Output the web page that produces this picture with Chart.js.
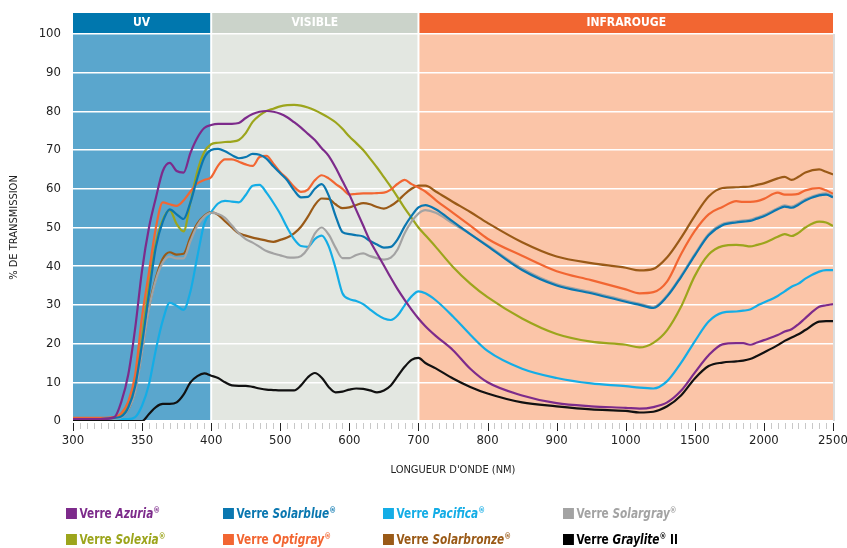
<!DOCTYPE html>
<html>
<head>
<meta charset="utf-8">
<script src="https://cdn.jsdelivr.net/npm/chart.js@4.4.1/dist/chart.umd.min.js"></script>
<style>
  html, body { margin: 0; padding: 0; background: #fff; }
  #wrap { position: relative; width: 847px; height: 548px; }
  #legend { position: absolute; left: 0; top: 0; width: 847px; height: 548px; pointer-events: none;
    font-family: 'Liberation Sans Narrow', 'DejaVu Sans Condensed', sans-serif; font-weight: bold; font-size: 14px; }
  .item { position: absolute; white-space: nowrap; line-height: 16px; transform: scaleX(0.84); transform-origin: 0 50%; }
  .item .sw { display: inline-block; width: 13px; height: 11px; margin-right: 3px; vertical-align: -1px; }
  .item i { font-style: italic; }
  .item sup { font-size: 9px; vertical-align: 5px; line-height: 0; }
</style>
</head>
<body>
<div id="wrap">
  <canvas id="chart" width="847" height="548"></canvas>
  <div id="legend"></div>
</div>
<script>
// tick positions of the x axis (evenly spaced on the page)
const tickNm = [300, 350, 400, 500, 600, 700, 800, 900, 1000, 1500, 2000, 2500];

// spectral zones
const zoneLabels = ['UV', 'VISIBLE', 'INFRAROUGE'];
const zoneEdges = [300, 400, 700, 2500];

// wavelengths (nm) at which the curves were read
const wavelengths = [
  300, 320, 330, 335, 340, 345, 350, 355, 360, 365, 370, 375, 380, 385, 390, 395, 400,
  410, 420, 430, 440, 450, 460, 470, 480, 490, 500, 510, 520, 530, 540, 550, 560, 570, 580, 590,
  600, 610, 620, 630, 640, 650, 660, 670, 680, 690, 700,
  710, 725, 750, 775, 800, 850, 900, 950, 1000, 1100, 1200, 1300, 1400, 1500, 1600, 1700, 1800,
  1850, 1900, 1950, 2000, 2100, 2150, 2200, 2250, 2300, 2400, 2450, 2500
];

// % transmission
const azuria = [
  0.5, 0.5, 1, 5, 12, 24, 39, 50, 57.7, 64.6, 66.7, 64.6, 64.2, 69.3, 73.2, 75.7, 76.5,
  76.8, 76.8, 76.8, 77, 78.3, 79.3, 79.9, 80.1, 79.9, 79.4, 78.5, 77.2, 75.8, 74.2, 72.6, 70.5, 68.5, 65.5, 62,
  58.5, 54.5, 50.5, 46.5, 43.3, 40.2, 37, 34, 31.3, 28.8, 26.5,
  24.5, 22, 18.3, 13.5, 10, 6.6, 4.6, 3.8, 3.4, 3.2, 3.6, 4.8, 7.8, 12.5, 17, 19.8, 20.1,
  20.1, 19.7, 20.3, 20.9, 22.2, 23.1, 23.7, 25, 26.6, 29.5, 29.9, 30.2
];
const solarblue = [
  0.5, 0.5, 0.8, 1.2, 3.5, 9, 20, 33, 45, 51.5, 54.7, 53.4, 52.2, 56.5, 62.8, 68, 70,
  70.3, 69.7, 68.7, 67.9, 68.2, 69, 68.8, 67.8, 65.8, 64, 62.2, 59.6, 57.8, 57.9, 60, 61.2, 58.3, 53, 48.8,
  48.3, 48, 47.7, 46.5, 45.6, 44.8, 45, 47, 50.3, 53, 55.2,
  55.8, 54.7, 51.5, 48.3, 45.2, 39, 35, 33, 30.8, 30, 29.2, 32.2, 37.2, 42.8, 48, 50.6, 51.3,
  51.5, 51.7, 52.3, 52.9, 54.7, 55.4, 55.1, 55.9, 57, 58.3, 58.5, 57.8
];
const pacifica = [
  0.5, 0.5, 0.5, 0.5, 0.5, 1, 4, 9.5, 18.5, 26, 30.5, 29.8, 28.7, 33.5, 42.5, 51, 54,
  56.2, 56.9, 56.7, 56.5, 58.4, 60.8, 61, 59, 56.4, 53.5, 50, 47, 45.2, 45, 47, 47.9, 45.2, 39.5, 33,
  31.5, 31, 30.2, 28.8, 27.5, 26.5, 26.1, 27.3, 29.9, 32.2, 33.5,
  33, 31.2, 27, 22.3, 18.1, 13.5, 11.1, 9.7, 9, 8.6, 8.4, 10.3, 15, 20.6, 25.7, 28, 28.3,
  28.5, 28.8, 29.8, 30.6, 32.3, 33.5, 34.7, 35.5, 36.8, 38.6, 39, 39
];
const solargray = [
  0.5, 0.5, 0.6, 1, 3, 7.5, 18, 29, 36.5, 41, 42.5, 42, 42, 46.5, 50.5, 52.8, 53.8,
  53.5, 52.5, 50.5, 48.5, 47, 46.1, 45, 43.9, 43.3, 42.8, 42.3, 42.2, 42.6, 44.6, 48.4, 50, 48.2, 44.8, 42.1,
  42.1, 42.9, 43.3, 42.6, 42.1, 41.7, 42.2, 44.4, 48.5, 51.5, 53.6,
  54.5, 53.8, 51, 48.3, 45.4, 39.4, 35.3, 33.3, 31.1, 30.3, 29.5, 32.5, 37.5, 43.1, 48.3, 50.9, 51.6,
  51.8, 52, 52.6, 53.2, 55, 55.7, 55.4, 56.2, 57.3, 58.6, 58.8, 58.1
];
const solexia = [
  0.5, 0.5, 0.8, 1.5, 4, 9.7, 22, 35, 46, 52, 54.5, 50.9, 49, 56.5, 64.5, 69.5, 71.5,
  71.9, 72.1, 72.2, 72.6, 74.4, 77.3, 79, 80.1, 80.7, 81.3, 81.6, 81.7, 81.5, 81, 80.3, 79.4, 78.4, 77.2, 75.5,
  73.5, 71.8, 70, 67.8, 65.5, 63, 60.5, 57.8, 55, 52.5, 50,
  48, 45, 39.8, 35.5, 32, 26.5, 22.5, 20.5, 19.7, 19, 20.2, 23.5, 29.5, 37.5, 43, 45.2, 45.5,
  45.4, 45.1, 45.5, 46, 47.6, 48.3, 47.8, 48.6, 50, 51.5, 51.3, 50.4
];
const optigray = [
  0.8, 0.8, 1, 2, 5, 12, 27, 38.5, 50, 56.5, 56, 55.6, 57, 59.3, 61.4, 62.3, 63,
  66, 67.6, 67.6, 67, 66.3, 65.9, 68.2, 68.5, 66.5, 64.3, 62.6, 60.5, 59.2, 59.8, 62.2, 63.5, 62.7, 61.3, 60,
  58.5, 58.7, 58.8, 58.8, 58.9, 59, 59.8, 61.3, 62.3, 61.2, 60.3,
  59.3, 57.1, 53.8, 50.5, 47.1, 42.7, 38.7, 36.4, 34, 33, 33.3, 36.1, 43.1, 49.1, 53.4, 55.3, 56.8,
  56.6, 56.6, 56.8, 57.4, 59, 58.5, 58.5, 58.7, 59.6, 60.2, 59.6, 58.7
];
const solarbronze = [
  0.5, 0.5, 0.6, 1.5, 3, 8, 18.5, 29.5, 37, 42, 43.6, 43, 43.2, 47.5, 51, 53, 54,
  53.3, 51.6, 50, 48.5, 47.9, 47.4, 47, 46.6, 46.3, 46.8, 47.4, 48.5, 50.2, 52.8, 55.8, 57.5, 57.4, 56, 55,
  55.2, 55.8, 56.3, 56, 55.3, 54.9, 55.6, 56.9, 58.6, 60, 60.8,
  60.8, 59.3, 56.6, 54, 51.2, 46.2, 42.5, 40.8, 39.6, 38.9, 39.3, 42.3, 47.3, 53, 58, 60.2, 60.4,
  60.5, 60.6, 61, 61.4, 62.7, 63.1, 62.3, 63.1, 64.2, 65, 64.4, 63.7
];
const graylite = [
  0, 0, 0, 0, 0, 0, 0, 1.8, 3.6, 4.4, 4.4, 4.8, 6.8, 10, 11.6, 12.3, 11.7,
  11.1, 10, 9.2, 9.1, 9.1, 8.8, 8.4, 8.1, 8, 7.9, 7.9, 7.9, 9.2, 11.3, 12.4, 11.2, 8.8, 7.4, 7.6,
  8.1, 8.4, 8.3, 7.9, 7.4, 7.9, 9.2, 11.6, 14, 15.8, 16.3,
  15, 13.6, 11, 8.8, 7.1, 4.8, 3.8, 3, 2.6, 2.2, 2.4, 3.8, 6.6, 11, 14.2, 15.1, 15.4,
  15.6, 16, 16.8, 17.7, 19.6, 20.7, 21.6, 22.4, 23.5, 25.7, 25.8, 25.8
];

const FONT = "'Liberation Sans Narrow', 'DejaVu Sans Condensed', sans-serif";
Chart.defaults.font.family = FONT;
Chart.defaults.color = '#222';

// wavelength -> position on the (piecewise) x axis
function toAxis(nm) {
  for (let i = 0; i < tickNm.length - 1; i++) {
    if (nm <= tickNm[i + 1]) return i + (nm - tickNm[i]) / (tickNm[i + 1] - tickNm[i]);
  }
  return tickNm.length - 1;
}
const pts = vals => vals.map((v, i) => ({ x: toAxis(wavelengths[i]), y: v }));

const zoneHead = ['#0077ae', '#cbd3ca', '#f26632'];
const zoneFill = ['#5aa6cd', '#e3e7e1', '#fbc5a8'];

const zonesPlugin = {
  id: 'zones',
  beforeDraw(chart) {
    const { ctx, chartArea, scales: { x } } = chart;
    ctx.save();
    for (let i = 0; i < zoneLabels.length; i++) {
      const x0 = x.getPixelForValue(toAxis(zoneEdges[i])) + (i > 0 ? 1 : 0);
      const x1 = x.getPixelForValue(toAxis(zoneEdges[i + 1])) - (i < zoneLabels.length - 1 ? 1 : 0);
      ctx.fillStyle = zoneHead[i];
      ctx.fillRect(x0, 13, x1 - x0, chartArea.top - 14);
      ctx.fillStyle = zoneFill[i];
      ctx.fillRect(x0, chartArea.top, x1 - x0, chartArea.bottom - chartArea.top);
      ctx.fillStyle = '#fff';
      ctx.font = 'bold 12px ' + FONT;
      ctx.textAlign = 'center';
      ctx.textBaseline = 'middle';
      ctx.fillText(zoneLabels[i], (x0 + x1) / 2, 23);
    }
    // light edge on the right
    ctx.fillStyle = '#dcdcdc';
    ctx.fillRect(chartArea.right, chartArea.top, 2, chartArea.bottom - chartArea.top);
    ctx.restore();
  }
};

// major + minor tick marks under the plot
const ticksPlugin = {
  id: 'minorTicks',
  afterDraw(chart) {
    const { ctx, chartArea, scales: { x } } = chart;
    ctx.save();
    ctx.lineWidth = 1;
    for (let i = 0; i < tickNm.length; i++) {
      for (let k = 0; k < 10; k++) {
        if (i === tickNm.length - 1 && k > 0) break;
        const px = Math.round(x.getPixelForValue(i + k / 10)) + 0.5;
        ctx.strokeStyle = k === 0 ? '#222' : '#c8c8c8';
        ctx.beginPath();
        ctx.moveTo(px, chartArea.bottom + 2);
        ctx.lineTo(px, chartArea.bottom + (k === 0 ? 10 : 8));
        ctx.stroke();
      }
    }
    ctx.restore();
  }
};

const series = [
  { label: 'Graylite', data: graylite, color: '#111111' },
  { label: 'Azuria', data: azuria, color: '#7d2b8b' },
  { label: 'Solarblue', data: solarblue, color: '#0a77b0' },
  { label: 'Solargray', data: solargray, color: '#a3a3a3' },
  { label: 'Pacifica', data: pacifica, color: '#14ade6' },
  { label: 'Optigray', data: optigray, color: '#f26632' },
  { label: 'Solexia', data: solexia, color: '#9ca51c' },
  { label: 'Solarbronze', data: solarbronze, color: '#9a5a17' }
];

new Chart(document.getElementById('chart').getContext('2d'), {
  type: 'line',
  data: {
    datasets: series.map(s => ({
      label: s.label,
      data: pts(s.data),
      borderColor: s.color,
      borderWidth: 2.2,
      pointRadius: 0,
      cubicInterpolationMode: 'monotone',
      fill: false
    }))
  },
  options: {
    responsive: false,
    animation: false,
    layout: { padding: { left: 0, top: 34, right: 14, bottom: 67 } },
    plugins: { legend: { display: false }, tooltip: { enabled: false } },
    scales: {
      x: {
        type: 'linear',
        min: 0,
        max: tickNm.length - 1,
        border: { display: false },
        grid: { display: false, drawTicks: true, tickLength: 8 },
        ticks: {
          stepSize: 1,
          autoSkip: false,
          maxRotation: 0,
          padding: 4,
          font: { size: 13 },
          color: '#222',
          callback: v => tickNm[v]
        },
        title: {
          display: true,
          text: "LONGUEUR D'ONDE (NM)",
          font: { size: 11 },
          color: '#222',
          padding: { top: 0, bottom: 4 }
        },
        afterFit: s => { s.height = 60; s.paddingLeft = 0; s.paddingRight = 0; }
      },
      y: {
        min: 0,
        max: 100,
        border: { display: false },
        grid: { color: '#ffffff', lineWidth: 1.5, drawTicks: false },
        ticks: { stepSize: 10, padding: 12, font: { size: 13 }, color: '#222' },
        title: {
          display: true,
          text: '% DE TRANSMISSION',
          font: { size: 11 },
          color: '#222',
          padding: { top: 8, bottom: 0 }
        },
        afterFit: s => { s.width = 73; }
      }
    }
  },
  plugins: [zonesPlugin, ticksPlugin]
});

// legend (two rows, four columns)
const legendItems = [
  ['Verre ', 'Azuria', '®', '', '#7d2b8b'],
  ['Verre ', 'Solarblue', '®', '', '#0a77b0'],
  ['Verre ', 'Pacifica', '®', '', '#14ade6'],
  ['Verre ', 'Solargray', '®', '', '#a3a3a3'],
  ['Verre ', 'Solexia', '®', '', '#9ca51c'],
  ['Verre ', 'Optigray', '®', '', '#f26632'],
  ['Verre ', 'Solarbronze', '®', '', '#9a5a17'],
  ['Verre ', 'Graylite', '®', ' II', '#000000']
];
const colX = [66, 223, 383, 563];
const rowY = [505, 531];
const legend = document.getElementById('legend');
legendItems.forEach((it, i) => {
  const d = document.createElement('div');
  d.className = 'item';
  d.style.left = colX[i % 4] + 'px';
  d.style.top = rowY[Math.floor(i / 4)] + 'px';
  d.style.color = it[4];
  d.innerHTML = '<span class="sw" style="background:' + it[4] + '"></span>' +
    it[0] + '<i>' + it[1] + '</i><sup>' + it[2] + '</sup>' + it[3];
  legend.appendChild(d);
});
</script>
</body>
</html>
